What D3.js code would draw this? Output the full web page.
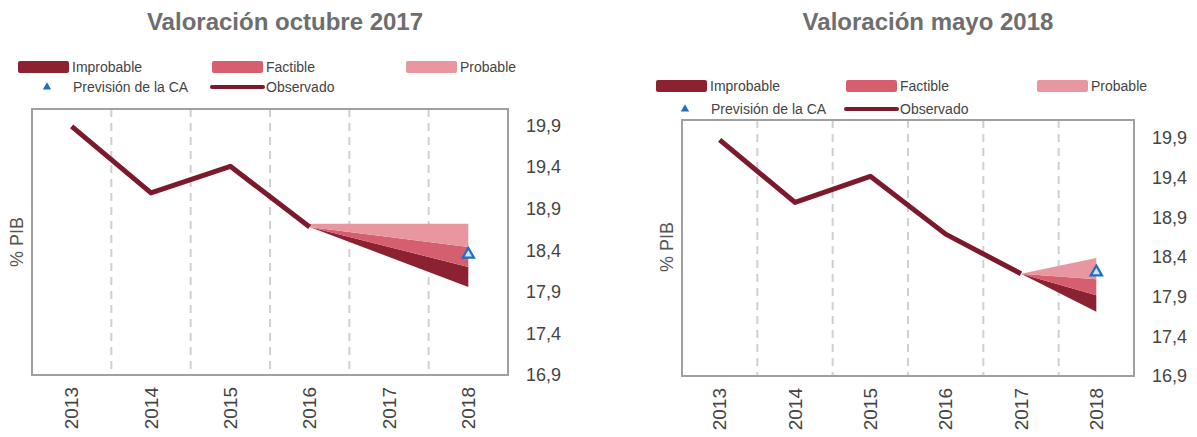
<!DOCTYPE html>
<html><head><meta charset="utf-8">
<script src="https://cdn.jsdelivr.net/npm/d3@7"></script>
<style>
html,body{margin:0;padding:0;background:#fff;}
svg{display:block;font-family:"Liberation Sans",Arial,sans-serif;}
</style></head>
<body><svg id="c" width="1197" height="437"></svg>
<script>
const years = ["2013","2014","2015","2016","2017","2018"];
const yTicks = [16.9, 17.4, 17.9, 18.4, 18.9, 19.4, 19.9];

// Valoración octubre 2017
const obsYearsA = ["2013","2014","2015","2016"];
const obsA = [19.89, 19.09, 19.41, 18.68];
const fanYearsA = ["2016","2018"];
const fanTopA = [18.72, 18.72];
const probLowA = [18.68, 18.44];
const factLowA = [18.68, 18.20];
const imprLowA = [18.68, 17.96];
const prevA = 18.35;

// Valoración mayo 2018
const obsYearsB = ["2013","2014","2015","2016","2017"];
const obsB = [19.88, 19.09, 19.42, 18.69, 18.19];
const fanYearsB = ["2017","2018"];
const fanTopB = [18.19, 18.39];
const probLowB = [18.19, 18.12];
const factLowB = [18.19, 17.92];
const imprLowB = [18.19, 17.71];
const prevB = 18.21;

const titles = ["Valoración octubre 2017", "Valoración mayo 2018"];
const legendLabels = ["Improbable", "Factible", "Probable", "Previsión de la CA", "Observado"];

const C = {impr:"#8c2131", fact:"#d65f6f", prob:"#e8969f", line:"#7c1a2d", tri:"#1f6fbf"};

const svg = d3.select("#c");
const fmt = d => d.toFixed(1).replace(".", ",");

function panel(cfg) {
  const g = svg.append("g");
  const x = d3.scaleBand().domain(years).range([cfg.x0, cfg.x1]);
  const y = d3.scaleLinear().domain(cfg.yDom).range([cfg.y1, cfg.y0]);
  const cx = d => x(d) + x.bandwidth() / 2;

  // title
  g.append("text").attr("x", cfg.titleX).attr("y", 30).attr("text-anchor", "middle")
    .attr("font-size", 24).attr("font-weight", "bold").attr("fill", "#6e6e6e").text(cfg.title);

  // legend
  const L = cfg.leg;
  const sw = [[C.impr, legendLabels[0], L.c1], [C.fact, legendLabels[1], L.c2], [C.prob, legendLabels[2], L.c3]];
  sw.forEach(([col, lab, lx]) => {
    g.append("rect").attr("x", lx).attr("y", L.r1 - 6).attr("width", 51).attr("height", 12)
      .attr("rx", 2).attr("fill", col);
    g.append("text").attr("x", lx + 54).attr("y", L.r1 + 5).attr("font-size", 14).attr("fill", "#444").text(lab);
  });
  g.append("path").attr("d", d3.symbol(d3.symbolTriangle, 30)())
    .attr("transform", `translate(${L.c1 + 29},${L.r2})`).attr("fill", C.tri);
  g.append("text").attr("x", L.c1 + 55).attr("y", L.r2 + 5).attr("font-size", 14).attr("fill", "#444").text(legendLabels[3]);
  g.append("line").attr("x1", L.c2).attr("x2", L.c2 + 51).attr("y1", L.r2).attr("y2", L.r2)
    .attr("stroke", C.line).attr("stroke-width", 4).attr("stroke-linecap", "round");
  g.append("text").attr("x", L.c2 + 54).attr("y", L.r2 + 5).attr("font-size", 14).attr("fill", "#444").text(legendLabels[4]);

  // gridlines at band boundaries
  years.slice(1).forEach(yr => {
    g.append("line").attr("x1", x(yr)).attr("x2", x(yr)).attr("y1", cfg.y0).attr("y2", cfg.y1)
      .attr("stroke", "#d0d0d0").attr("stroke-width", 2).attr("stroke-dasharray", "8,6");
  });

  // frame
  g.append("rect").attr("x", cfg.x0).attr("y", cfg.y0).attr("width", cfg.x1 - cfg.x0)
    .attr("height", cfg.y1 - cfg.y0).attr("fill", "none").attr("stroke", "#a0a0a0").attr("stroke-width", 2);

  // fan
  const fanData = cfg.fanYears.map((yr, i) => ({yr, top: cfg.fanTop[i], p: cfg.probLow[i], f: cfg.factLow[i], im: cfg.imprLow[i]}));
  const area = (lo, hi) => d3.area().x(d => cx(d.yr)).y0(d => y(d[lo])).y1(d => y(d[hi]));
  g.append("path").datum(fanData).attr("d", area("im", "f")).attr("fill", C.impr);
  g.append("path").datum(fanData).attr("d", area("f", "p")).attr("fill", C.fact);
  g.append("path").datum(fanData).attr("d", area("p", "top")).attr("fill", C.prob);

  // observed line
  const obs = cfg.obsYears.map((yr, i) => ({yr, v: cfg.obs[i]}));
  g.append("path").datum(obs).attr("d", d3.line().x(d => cx(d.yr)).y(d => y(d.v)))
    .attr("fill", "none").attr("stroke", C.line).attr("stroke-width", 5).attr("stroke-linejoin", "round");

  // prevision triangle
  g.append("path").attr("d", d3.symbol(d3.symbolTriangle, 55)())
    .attr("transform", `translate(${cx("2018")},${y(cfg.prev)})`)
    .attr("fill", "#cfe3f5").attr("stroke", C.tri).attr("stroke-width", 2.2);

  // y axis (right)
  const ya = d3.axisRight(y).tickValues(yTicks).tickFormat(fmt).tickSize(0).tickPadding(0);
  const yg = g.append("g").attr("transform", `translate(${cfg.tickX},0)`).call(ya);
  yg.select(".domain").remove();
  yg.selectAll("text").attr("font-size", 18).attr("fill", "#444").attr("font-family", "Liberation Sans, Arial, sans-serif");

  // x axis labels
  const xa = d3.axisBottom(x).tickSize(0).tickPadding(0);
  const xg = g.append("g").attr("transform", `translate(0,${cfg.y1})`).call(xa);
  xg.select(".domain").remove();
  xg.selectAll("text").attr("font-size", 19).attr("fill", "#444").attr("font-family", "Liberation Sans, Arial, sans-serif")
    .attr("transform", "rotate(-90)").attr("text-anchor", "end").attr("dy", "0.35em").attr("x", -12).attr("y", 0);

  // y label
  g.append("text").attr("transform", `translate(${cfg.labX},${cfg.labY}) rotate(-90)`)
    .attr("text-anchor", "middle").attr("font-size", 18).attr("fill", "#555").text("% PIB");
}

panel({title: titles[0], titleX: 285, x0: 32, x1: 508, y0: 109, y1: 375, yDom: [16.9, 20.1],
  tickX: 526, labX: 23, labY: 242,
  leg: {r1: 67, r2: 87, c1: 18, c2: 212, c3: 406},
  obsYears: obsYearsA, obs: obsA, fanYears: fanYearsA, fanTop: fanTopA, probLow: probLowA,
  factLow: factLowA, imprLow: imprLowA, prev: prevA});

panel({title: titles[1], titleX: 928, x0: 682, x1: 1134, y0: 120, y1: 376, yDom: [16.9, 20.13],
  tickX: 1152, labX: 673, labY: 247,
  leg: {r1: 86, r2: 109, c1: 656, c2: 846, c3: 1037},
  obsYears: obsYearsB, obs: obsB, fanYears: fanYearsB, fanTop: fanTopB, probLow: probLowB,
  factLow: factLowB, imprLow: imprLowB, prev: prevB});
</script></body></html>
